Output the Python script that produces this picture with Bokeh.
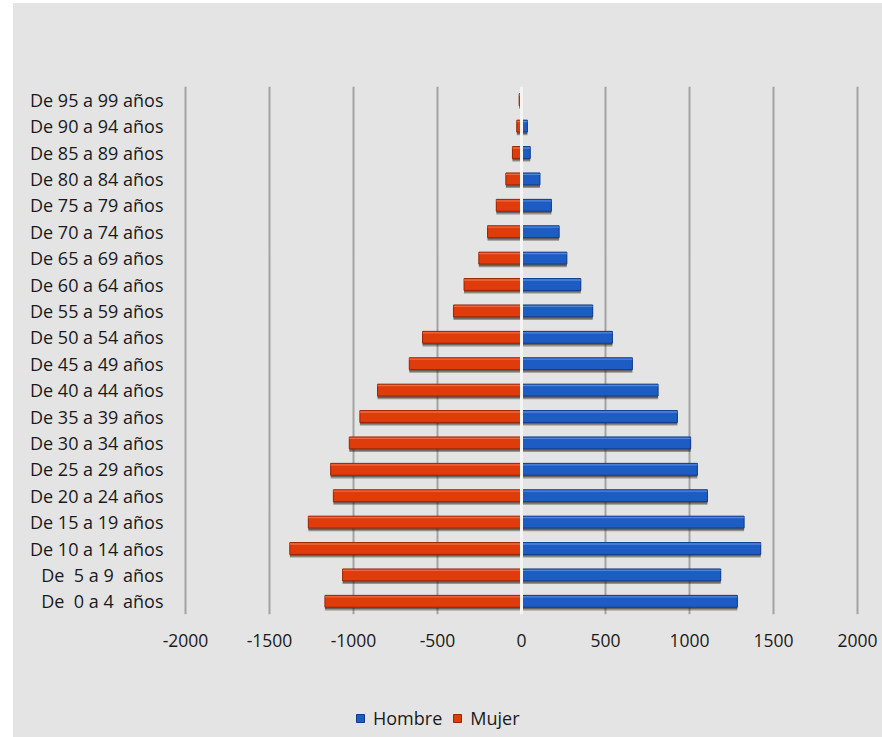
from bokeh.plotting import figure
from bokeh.models import (ColumnDataSource, FactorRange, FixedTicker, Span,
                          Legend, LegendItem, Spacer, PrintfTickFormatter)
from bokeh.layouts import column, row
from bokeh.transform import dodge
from bokeh.embed import file_html
from bokeh.resources import INLINE

NB = "\u00a0"
# Age groups, youngest first (bottom of the pyramid)
grupos = [
    f"De {NB}0 a 4 {NB}años", f"De {NB}5 a 9 {NB}años", "De 10 a 14 años", "De 15 a 19 años",
    "De 20 a 24 años", "De 25 a 29 años", "De 30 a 34 años", "De 35 a 39 años",
    "De 40 a 44 años", "De 45 a 49 años", "De 50 a 54 años", "De 55 a 59 años",
    "De 60 a 64 años", "De 65 a 69 años", "De 70 a 74 años", "De 75 a 79 años",
    "De 80 a 84 años", "De 85 a 89 años", "De 90 a 94 años", "De 95 a 99 años",
]
hombre = [1285, 1186, 1424, 1325, 1107, 1047, 1007, 928, 813, 660,
          541, 424, 353, 270, 224, 178, 110, 52, 35, 6]
mujer = [-1170, -1065, -1379, -1269, -1120, -1136, -1025, -962, -857, -668,
         -589, -405, -342, -254, -202, -150, -93, -54, -28, -14]
x_ticks = [-2000, -1500, -1000, -500, 0, 500, 1000, 1500, 2000]
series = ["Hombre", "Mujer"]

BG = "#e4e4e4"
FONT = "Open Sans"
TXT = "#1a1a1a"
AZUL, AZUL_OSC, AZUL_CLARO = "#1d5cc2", "#0f3d8c", "#5d92e4"
ROJO, ROJO_OSC, ROJO_CLARO = "#e03b0b", "#9a2604", "#f2784a"

src = ColumnDataSource(dict(grupo=grupos, hombre=hombre, mujer=mujer))

# a little slack on both sides keeps the outer grid lines inside the frame
p = figure(width=869, height=661, y_range=FactorRange(factors=grupos, range_padding=0),
           x_range=(-2012, 2012), output_backend="svg", toolbar_location=None,
           min_border_left=170, min_border_right=23, min_border_top=83,
           min_border_bottom=50)
p.background_fill_color = None
p.border_fill_color = BG
p.outline_line_color = None

BAR_H = 0.45

# soft drop shadow under each bar
for col in ("hombre", "mujer"):
    p.hbar(y=dodge("grupo", -0.12, range=p.y_range), left=0, right=col, height=BAR_H,
           source=src, fill_color="#201810", fill_alpha=0.4, line_color=None)
    p.hbar(y=dodge("grupo", -0.07, range=p.y_range), left=0, right=col, height=BAR_H,
           source=src, fill_color="#201810", fill_alpha=0.4, line_color=None)

p.hbar(y="grupo", left=0, right="hombre", height=BAR_H, source=src,
       fill_color=AZUL, line_color=AZUL_OSC, line_width=1)
p.hbar(y="grupo", left=0, right="mujer", height=BAR_H, source=src,
       fill_color=ROJO, line_color=ROJO_OSC, line_width=1)

# bevel highlight along the top edge of each bar
p.hbar(y=dodge("grupo", 0.17, range=p.y_range), left=0, right="hombre", height=0.05,
       source=src, fill_color=AZUL_CLARO, fill_alpha=0.8, line_color=None)
p.hbar(y=dodge("grupo", 0.17, range=p.y_range), left=0, right="mujer", height=0.05,
       source=src, fill_color=ROJO_CLARO, fill_alpha=0.8, line_color=None)

# light centre line separating the two sides
p.add_layout(Span(location=0, dimension="height", line_color="#f4f4f4", line_width=3))

# axes
xa = p.xaxis[0]
xa.ticker = FixedTicker(ticks=x_ticks)
xa.formatter = PrintfTickFormatter(format="%d")
xa.axis_line_color = None
xa.major_tick_line_color = None
xa.minor_tick_line_color = None
xa.major_label_text_font = FONT
xa.major_label_text_font_size = "17.5px"
xa.major_label_text_color = TXT
xa.major_label_standoff = 13

ya = p.yaxis[0]
ya.axis_line_color = None
ya.major_tick_line_color = None
ya.major_label_text_font = FONT
ya.major_label_text_font_size = "18px"
ya.major_label_text_color = TXT
ya.major_label_standoff = 14

p.xgrid.grid_line_color = "#a3a3a3"
p.xgrid.grid_line_width = 2
p.xgrid.ticker = FixedTicker(ticks=[t for t in x_ticks if t != 0])
p.ygrid.grid_line_color = None

# legend strip under the chart; its swatch renderers sit outside the visible range
leg = figure(width=869, height=73, output_backend="svg", toolbar_location=None,
             x_range=(0, 1), y_range=(0, 1), min_border=0)
leg.background_fill_color = None
leg.border_fill_color = BG
leg.outline_line_color = None
leg.axis.visible = False
leg.grid.visible = False
swatch = ColumnDataSource(dict(y=[-10], right=[-10]))
l_h = leg.hbar(y="y", right="right", height=1, source=swatch,
               fill_color=AZUL, line_color=AZUL_OSC)
l_m = leg.hbar(y="y", right="right", height=1, source=swatch,
               fill_color=ROJO, line_color=ROJO_OSC)
legend = Legend(items=[LegendItem(label=series[0], renderers=[l_h]),
                       LegendItem(label=series[1], renderers=[l_m])],
                orientation="horizontal", location=(172, 7),
                background_fill_alpha=0, border_line_color=None,
                glyph_width=10, glyph_height=10, label_height=16,
                label_standoff=8, spacing=10, padding=0, margin=0,
                label_text_font=FONT, label_text_font_size="18px",
                label_text_color=TXT)
leg.add_layout(legend, "center")

chart = column(p, leg, styles={"background-color": BG})
layout = column(Spacer(height=3), row(Spacer(width=13), chart))

open("out.html", "w").write(file_html(layout, INLINE))
